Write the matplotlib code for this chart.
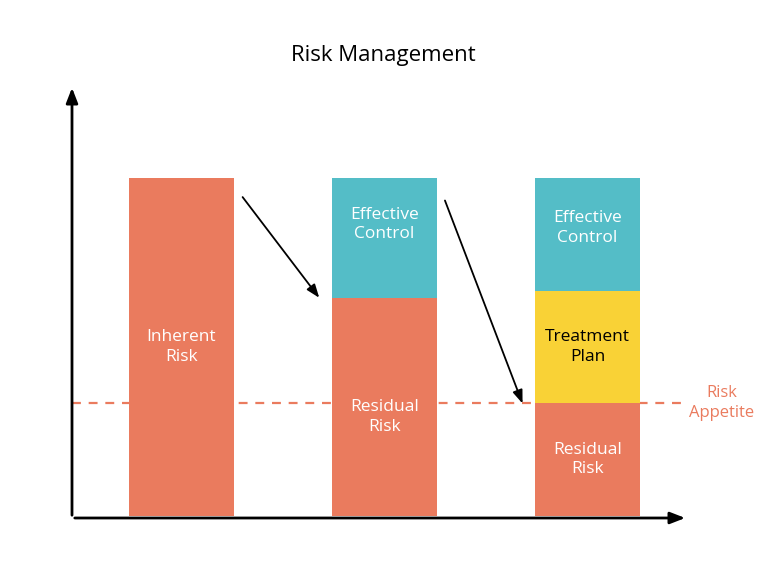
import matplotlib
matplotlib.use("Agg")
import matplotlib.pyplot as plt

plt.rcParams['font.family'] = ['Open Sans', 'DejaVu Sans']

categories = ["Inherent", "After Control", "After Treatment"]
residual = [100, 64.5, 33.4]
treatment = [0, 0, 33.1]
effective = [0, 35.5, 33.5]
appetite = 33.4
orange, teal, yellow = "#EA7B5E", "#54BDC7", "#F9D236"

fig = plt.figure(figsize=(7.66, 5.8), dpi=100)
ax = fig.add_axes([72/766, 62/580, 616/766, 433/580])
ax.set_xlim(-0.539, 2.495)
ax.set_ylim(-0.59, 127.5)
ax.axis('off')
x = range(len(categories))
w = 0.517
ax.bar(x, residual, w, color=orange)
ax.bar(x, treatment, w, bottom=residual, color=yellow)
ax.bar(x, effective, w, bottom=[r + t for r, t in zip(residual, treatment)], color=teal)

ax.axhline(appetite, xmin=0, xmax=1.0, color=orange, ls=(0, (4, 3.5)), lw=1.6, zorder=0.5)
ax.text(2.66, appetite, "Risk\nAppetite", color=orange, fontsize=12, ha='center', va='center',
        clip_on=False, linespacing=1.3)

tk = dict(color='white', fontsize=12.5, ha='center', va='center', linespacing=1.3)
ax.text(0, 50, "Inherent\nRisk", **tk)
ax.text(1, residual[1] / 2 - 3, "Residual\nRisk", **tk)
ax.text(1, residual[1] + effective[1] / 2 + 4, "Effective\nControl", **tk)
ax.text(2, residual[2] / 2, "Residual\nRisk", **tk)
ax.text(2, residual[2] + treatment[2] / 2, "Treatment\nPlan", **dict(tk, color='black'))
ax.text(2, residual[2] + treatment[2] + effective[2] / 2 + 2, "Effective\nControl", **tk)

# axes arrows
ap = dict(arrowstyle='-|>,head_length=0.9,head_width=0.35', color='black', lw=2)
ax.annotate("", xy=(-0.539, 127.5), xytext=(-0.539, -0.59), arrowprops=ap, annotation_clip=False)
ax.annotate("", xy=(2.495, -0.59), xytext=(-0.539, -0.59), arrowprops=ap, annotation_clip=False)

dp = dict(arrowstyle='-|>,head_length=0.8,head_width=0.3', color='black', lw=1.3)
ax.annotate("", xy=(0.687, 63.9), xytext=(0.293, 95), arrowprops=dp)
ax.annotate("", xy=(1.685, 32.5), xytext=(1.293, 94.1), arrowprops=dp)

fig.text(0.5, 1 - 55/580, "Risk Management", ha='center', va='center', fontsize=16)
fig.savefig("out.png", dpi=100, facecolor='white')
